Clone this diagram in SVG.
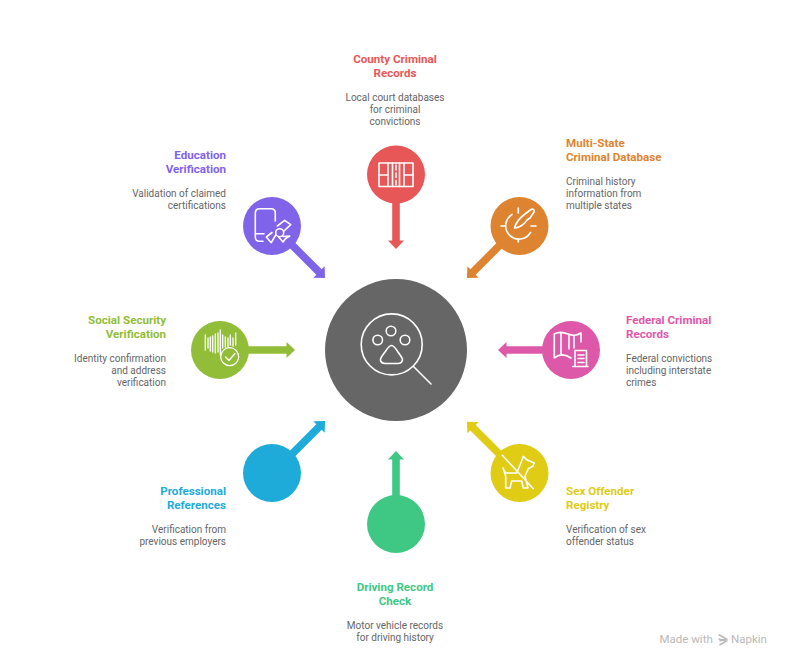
<svg xmlns="http://www.w3.org/2000/svg" width="792" height="667" viewBox="0 0 792 667">
<defs>
<style>
text{font-family:Roboto,"Liberation Sans",sans-serif}
.t{font-size:11.6px;font-weight:700}
.d{font-size:10px;fill:#666}
.e{text-anchor:end}
.m{text-anchor:middle}
.i{fill:none;stroke:#fff;stroke-width:1.6;stroke-linecap:round;stroke-linejoin:round}
</style>
<path id="arrow" d="M-3.800 0V-42H-8L0-50.500L8-42H3.800V0Z"/>
</defs>
<rect width="792" height="667" fill="#fff"/>
<g id="connectors">
<use href="#arrow" transform="translate(396,198.500) rotate(180)" fill="#e85757"/>
<use href="#arrow" transform="translate(502.700,242.300) rotate(-135)" fill="#de8431"/>
<use href="#arrow" transform="translate(548.500,350) rotate(-90)" fill="#de58aa"/>
<use href="#arrow" transform="translate(502.700,457.400) rotate(-45)" fill="#e0cb15"/>
<use href="#arrow" transform="translate(396,501.500)" fill="#3fc784"/>
<use href="#arrow" transform="translate(289.300,456.700) rotate(45)" fill="#1eabda"/>
<use href="#arrow" transform="translate(244.500,350) rotate(90)" fill="#92bd39"/>
<use href="#arrow" transform="translate(289.300,242.300) rotate(135)" fill="#7f63e8"/>
</g>
<g id="center">
<circle cx="396" cy="350" r="71" fill="#666"/>
<g class="i">
<circle cx="391.700" cy="344.400" r="30.500"/>
<circle cx="391" cy="331" r="4.800"/><circle cx="377.700" cy="340" r="4.800"/><circle cx="405" cy="340" r="4.800"/>
<path d="M391.500 345.500C389 345.500 387.500 348 385 352C382 356 380 358 380.500 360.500C381.200 363 383 363.500 385 363.500H398C400.500 363.500 402 362 402.500 360C402.500 357.500 400 355 398 352C395.500 348 394 345.500 391.500 345.500Z"/>
<path d="M413.500 366.500L431 384"/>
</g>
</g>
<g id="county">
<circle cx="396" cy="174.500" r="29" fill="#e85757"/>
<g class="i"><rect x="379" y="163" width="34" height="23.500"/><path d="M379 175H388M404 175H413M388 163V186.500M392.500 163V186.500M399.500 163V186.500M404 163V186.500M396 165V170M396 173V177.500M396 180.500V185"/></g>
<text class="t m" x="395" y="63" fill="#e85757">County Criminal</text><text class="t m" x="395" y="77" fill="#e85757">Records</text>
<text class="d m" x="395" y="101">Local court databases</text><text class="d m" x="395" y="113">for criminal</text><text class="d m" x="395" y="125">convictions</text>
</g>
<g id="multistate">
<circle cx="519.500" cy="226" r="29" fill="#de8431"/>
<g class="i"><path d="M512 214.500A13.300 13.300 0 1 0 530.500 232.500M518.300 208V213M518.300 239V242M501 226H506M531 226H536"/><path d="M514.500 228C516 222 521 217 525 214L531 209.500C533 208.500 535 210 534 212L530 218L527 220C525 224 519 228 514.500 228Z"/></g>
<text class="t" x="566" y="147" fill="#de8431">Multi-State</text><text class="t" x="566" y="161" fill="#de8431">Criminal Database</text>
<text class="d" x="566" y="185">Criminal history</text><text class="d" x="566" y="197">information from</text><text class="d" x="566" y="209">multiple states</text>
</g>
<g id="federal">
<circle cx="571" cy="350" r="29" fill="#de58aa"/>
<g class="i"><path d="M554.300 358V334C558 332 563 332 568 334C573 336 578 335 581 333V342M554.300 358C559 354 565 354 571 358M561 333V354M569 335V349M574 336V348"/><path d="M572.700 366.500H588M575 366.500V350.500H586.500V366.500M578 355H584M578 358.500H584M578 362.500H584"/></g>
<text class="t" x="626" y="324" fill="#de58aa">Federal Criminal</text><text class="t" x="626" y="338" fill="#de58aa">Records</text>
<text class="d" x="626" y="362">Federal convictions</text><text class="d" x="626" y="374">including interstate</text><text class="d" x="626" y="386">crimes</text>
</g>
<g id="sexoffender">
<circle cx="519.500" cy="473" r="29" fill="#e0cb15"/>
<g class="i"><path d="M502.300 455.300L533.300 488.700"/><path d="M503 468C504 471 505 473 507 473H516.700L521.700 461L523.300 456.300L526.700 459.700L534.300 463L533 466L528.300 468.700L525 476.300L528 488H523.300L521.700 481H511.700L510 488H505.700V476Z"/></g>
<text class="t" x="566" y="495" fill="#e0cb15">Sex Offender</text><text class="t" x="566" y="509" fill="#e0cb15">Registry</text>
<text class="d" x="566" y="533">Verification of sex</text><text class="d" x="566" y="545">offender status</text>
</g>
<g id="driving">
<circle cx="396" cy="524" r="29" fill="#3fc784"/>
<text class="t m" x="395" y="591" fill="#3fc784">Driving Record</text><text class="t m" x="395" y="605" fill="#3fc784">Check</text>
<text class="d m" x="395" y="629">Motor vehicle records</text><text class="d m" x="395" y="641">for driving history</text>
</g>
<g id="references">
<circle cx="272" cy="473" r="29" fill="#1eabda"/>
<text class="t e" x="226" y="495" fill="#1eabda">Professional</text><text class="t e" x="226" y="509" fill="#1eabda">References</text>
<text class="d e" x="226" y="533">Verification from</text><text class="d e" x="226" y="545">previous employers</text>
</g>
<g id="socialsecurity">
<circle cx="220" cy="350" r="29" fill="#92bd39"/>
<g class="i" style="stroke-width:1.300"><path d="M205.300 335V350M208 338V348M210.300 337V351M212.700 336V352M215.300 334V353M218 333V352M220.300 330V355M222.700 335V348M225.300 337V347M228 338V347M230.300 335V345M233 338V346M235.700 333V345"/><circle cx="229.700" cy="356.700" r="9"/><path d="M225.500 357L229 360.500L235 353.500"/></g>
<text class="t e" x="166" y="324" fill="#92bd39">Social Security</text><text class="t e" x="166" y="338" fill="#92bd39">Verification</text>
<text class="d e" x="166" y="362">Identity confirmation</text><text class="d e" x="166" y="374">and address</text><text class="d e" x="166" y="386">verification</text>
</g>
<g id="education">
<circle cx="272" cy="226" r="29" fill="#7f63e8"/>
<g class="i"><path d="M275.300 221V213C275.300 210 273.500 208.700 271 208.700H259.500C257 208.700 255.300 210 255.300 213V237C255.300 240 257 241.300 259.500 241.300H263M255.300 233.700H264"/><circle cx="279.700" cy="232.700" r="4"/><path d="M277.300 226L284.700 220.300L290.700 224.700L284 231M275.700 235L271.300 242.700L266.300 237L272 232.500M283 236.500L289.700 236L285.300 238.700L283 242L278.500 236.700"/></g>
<text class="t e" x="226" y="159" fill="#7f63e8">Education</text><text class="t e" x="226" y="173" fill="#7f63e8">Verification</text>
<text class="d e" x="226" y="197">Validation of claimed</text><text class="d e" x="226" y="209">certifications</text>
</g>
<g id="watermark">
<text x="659.500" y="643" font-size="11.500" fill="#b8b8b8">Made with</text>
<path d="M718.500 634.500L726.500 639L719.500 641M718.500 639L726.500 641L719.500 645" fill="none" stroke="#b8b8b8" stroke-width="1.500"/>
<text x="731" y="643" font-size="11.500" fill="#b8b8b8">Napkin</text>
</g>
</svg>
